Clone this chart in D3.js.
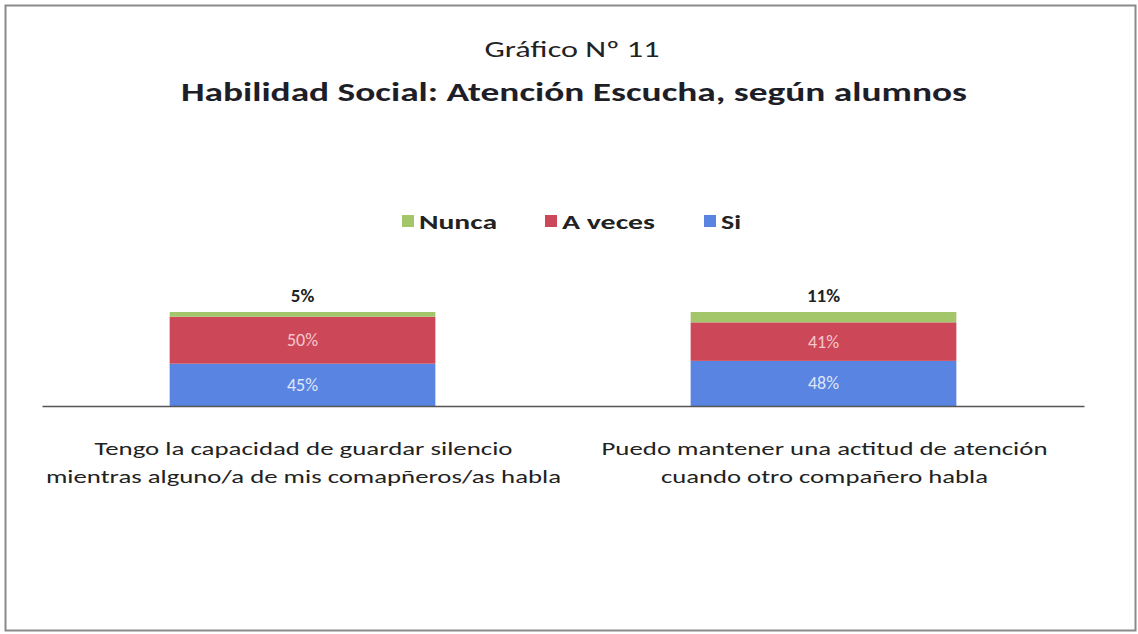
<!DOCTYPE html>
<html><head><meta charset="utf-8">
<script src="https://cdn.jsdelivr.net/npm/d3@7"></script>
<style>body{margin:0;background:#fff}svg{display:block}</style>
</head><body>
<script>
const categories = [
  ["Tengo la capacidad de guardar silencio", "mientras alguno/a de mis comapñeros/as habla"],
  ["Puedo mantener una actitud de atención", "cuando otro compañero habla"]
];
const seriesNames = ["Si", "A veces", "Nunca"];
const siValues = [45, 48];
const aVecesValues = [50, 41];
const nuncaValues = [5, 11];
const legendOrder = ["Nunca", "A veces", "Si"];
const colors = {"Si": "#5a84e2", "A veces": "#cc4858", "Nunca": "#a3c66a"};

const W = 1138, H = 634;
const font = "Carlito, Calibri, 'Liberation Sans Narrow', Lato, sans-serif";
const svg = d3.select("body").append("svg").attr("width", W).attr("height", H);

svg.append("rect").attr("x", 5.5).attr("y", 5.5).attr("width", 1130).attr("height", 625)
  .attr("fill", "#fff").attr("stroke", "#8a8a8a").attr("stroke-width", 2);

svg.append("text").attr("x", 572).attr("y", 57).attr("text-anchor", "middle")
  .attr("font-family", font).attr("font-size", 23).attr("fill", "#222")
  .attr("textLength", 175).attr("lengthAdjust", "spacingAndGlyphs").text("Gráfico Nº 11");
svg.append("text").attr("x", 574).attr("y", 101).attr("text-anchor", "middle")
  .attr("font-family", font).attr("font-size", 27).attr("font-weight", "bold").attr("fill", "#1e1e28")
  .attr("textLength", 786).attr("lengthAdjust", "spacingAndGlyphs")
  .text("Habilidad Social: Atención Escucha, según alumnos");

const data = categories.map((c, i) => ({cat: i, "Si": siValues[i], "A veces": aVecesValues[i], "Nunca": nuncaValues[i]}));
const stack = d3.stack().keys(seriesNames)(data);

const xb = d3.scaleBand().domain([0, 1]).range([42, 1084]).padding(0);
const barX = d3.scaleBand().domain([0, 1]).range([42, 1084]).paddingInner(0.49).paddingOuter(0.245);
const y = d3.scaleLinear().domain([0, 100]).range([406, 312]);

const layers = svg.append("g").selectAll("g").data(stack).join("g").attr("fill", d => colors[d.key]);
layers.selectAll("rect").data(d => d).join("rect")
  .attr("x", d => barX(d.data.cat)).attr("width", barX.bandwidth())
  .attr("y", d => y(d[1])).attr("height", d => y(d[0]) - y(d[1]));

// inside labels
stack.forEach(layer => {
  if (layer.key === "Nunca") return;
  svg.append("g").selectAll("text").data(layer).join("text")
    .attr("x", d => barX(d.data.cat) + barX.bandwidth() / 2)
    .attr("y", d => (y(d[0]) + y(d[1])) / 2 + 6)
    .attr("text-anchor", "middle").attr("font-family", font).attr("font-size", 18)
    .attr("fill", layer.key === "Si" ? "#dfe6f8" : "#f6c6cc")
    .text(d => (d[1] - d[0]) + "%");
});
// Nunca labels above
const nun = stack.find(s => s.key === "Nunca");
svg.append("g").selectAll("text").data(nun).join("text")
  .attr("x", d => barX(d.data.cat) + barX.bandwidth() / 2)
  .attr("y", d => y(100) - 10)
  .attr("text-anchor", "middle").attr("font-family", font).attr("font-size", 19).attr("font-weight", "bold")
  .attr("fill", "#222").text(d => (d[1] - d[0]) + "%");

// axis line
const axis = d3.axisBottom(xb).tickSize(0).tickFormat("");
const ag = svg.append("g").attr("transform", "translate(0,406)").call(axis);
ag.select(".domain").attr("stroke", "#555").attr("stroke-width", 1.5);

// category labels
const lineWidths = [[418, 515], [446, 327]];
data.forEach((d, i) => {
  categories[i].forEach((line, j) => {
    svg.append("text").attr("x", barX(i) + barX.bandwidth() / 2 + 1).attr("y", 455 + j * 28)
      .attr("text-anchor", "middle").attr("font-family", font).attr("font-size", 19)
      .attr("fill", "#222").attr("textLength", lineWidths[i][j]).attr("lengthAdjust", "spacingAndGlyphs")
      .text(line);
  });
});

// legend
const legendX = [402, 545, 704];
const legendW = [78, 93, 20];
const lg = svg.append("g");
legendOrder.forEach((k, i) => {
  lg.append("rect").attr("x", legendX[i]).attr("y", 215).attr("width", 12).attr("height", 12).attr("fill", colors[k]);
  lg.append("text").attr("x", legendX[i] + 17).attr("y", 229).attr("font-family", font)
    .attr("font-size", 20).attr("font-weight", "bold").attr("fill", "#222")
    .attr("textLength", legendW[i]).attr("lengthAdjust", "spacingAndGlyphs").text(k);
});
</script>
</body></html>
